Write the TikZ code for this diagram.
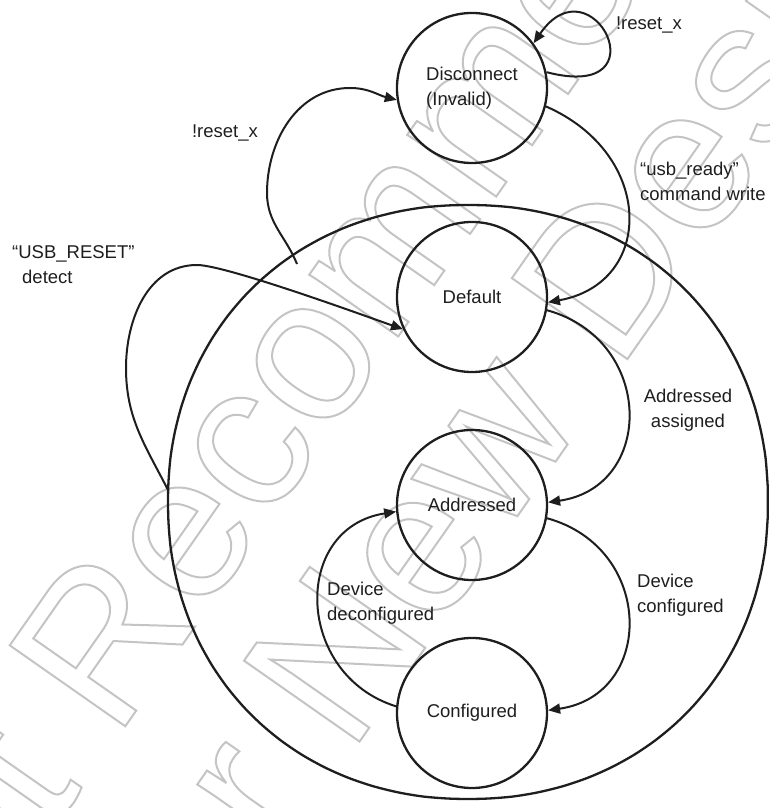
\documentclass[tikz,border=0pt]{standalone}
\usepackage{fontspec}
\setmainfont{Liberation Sans}
\usetikzlibrary{arrows.meta}
\definecolor{ink}{HTML}{1E1E1E}
\definecolor{wm}{HTML}{C4C4C4}
\tikzset{
  state/.style={draw=ink,circle,line width=2.3pt,minimum size=150pt,inner sep=0pt,align=left,text=ink},
  lbl/.style={align=left,inner sep=0pt,text=ink},
  arr/.style={-{Triangle[length=12pt,width=10pt]},line width=2pt,draw=ink},
  wmark/.style={text=wm,font=\fontsize{205}{205}\selectfont,inner sep=0pt}
}
\newcommand{\hollow}[1]{\special{pdf:literal direct 1 Tr 2 w}#1\special{pdf:literal direct 0 Tr}}

\begin{document}
\begin{tikzpicture}[x=1pt,y=1pt,font=\fontsize{18.5}{25}\selectfont]
\useasboundingbox (0,0) rectangle (769,808);
\node[wmark,anchor=base west,rotate=55] (wmone) at (-100,-240) {\hollow{Not Recommended}};
\node[wmark,anchor=base west,rotate=55] (wmtwo) at (180,-190) {\hollow{for New Designs}};

\node[state] (dis) at (472,720) {Disconnect\\(Invalid)};
\node[state] (def) at (472,511) {Default};
\node[state] (adr) at (472,303) {Addressed};
\node[state] (cfg) at (472,95) {Configured};
\draw[ink,line width=2.3pt] plot[smooth,variable=\t,domain=2.5:357.5,samples=72]
  ({468+300*sign(cos(\t))*abs(cos(\t))^0.95},{306+297*sign(sin(\t))*abs(sin(\t))^0.95}) -- cycle;
\coordinate (rstin) at (168,318);
\coordinate (rstout) at (297,544);

\node[lbl] (loopl) at (649,783) {!reset\_x};
\node[lbl] (rstl) at (225,675) {!reset\_x};
\node[lbl,anchor=west] (rdyl) at (640,627) {“usb\_ready”\\command write};
\node[lbl,align=center] (asgl) at (688,398) {Addressed\\assigned};
\node[lbl,anchor=west] (cfgl) at (637,213) {Device\\configured};
\node[lbl,anchor=west] (dcfl) at (327,205) {Device\\deconfigured};
\node[lbl,anchor=west] (usbl) at (12,543) {“USB\_RESET”\\\hspace{10pt}detect};

\draw[arr] (dis.12) .. controls (665,705) and (592,850) .. (dis.36);
\draw[arr] (dis.-14) .. controls (655,654) and (655,525) .. (def.-4);
\draw[arr] (def.-10) .. controls (655,468) and (655,321) .. (adr.2);
\draw[arr] (adr.-10) .. controls (655,260) and (655,113) .. (cfg.2);
\draw[arr] (cfg.175) .. controls (295,133) and (291,280) .. (adr.185);
\draw[arr] (rstout) to[out=112,in=-90] (267,615) to[out=90,in=180] (350,720) to[out=0,in=166] (dis.189);
\draw[arr] (rstin) to[out=117,in=-90] (126,440) to[out=90,in=180] (197,543) to[out=0,in=161,looseness=0.35] (def.205);
\end{tikzpicture}
\end{document}
